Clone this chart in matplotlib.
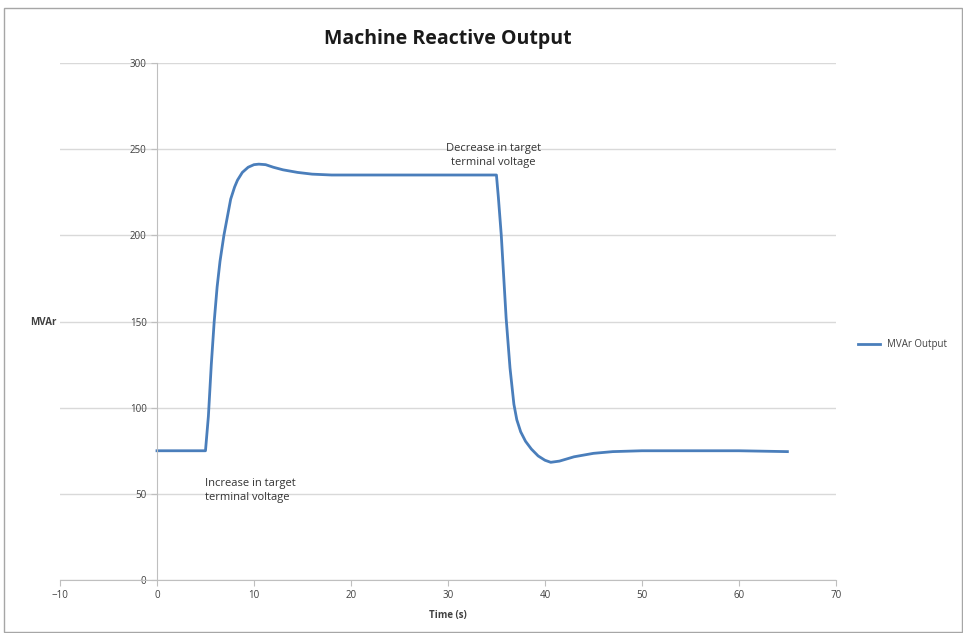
import matplotlib.pyplot as plt
from matplotlib.patches import Rectangle

# Generator reactive power response to terminal voltage setpoint steps
time_s = [0, 5, 5.3, 5.6, 5.9, 6.2, 6.5, 6.9, 7.3, 7.6, 8.0, 8.3, 8.8, 9.4,
          10.0, 10.5, 11.2, 12.0, 13.0, 14.5, 16, 18, 20, 25, 30, 35, 35.2,
          35.5, 36.0, 36.4, 36.8, 37.1, 37.5, 38.0, 38.6, 39.3, 40.0, 40.6,
          41.5, 43, 45, 47, 50, 55, 60, 65]
mvar = [75, 75, 95, 125, 150, 170, 185, 200, 212, 221, 228, 232, 236.5, 239.5,
        241, 241.3, 241, 239.5, 238, 236.5, 235.5, 235, 235, 235, 235, 235, 222,
        200, 152, 123, 102, 93, 86, 80.5, 76, 72, 69.5, 68.3,
        69, 71.5, 73.5, 74.5, 75, 75, 75, 74.5]

x_ticks = list(range(-10, 71, 10))
y_ticks = list(range(0, 301, 50))

plt.rcParams['font.family'] = ['Open Sans', 'DejaVu Sans']

fig = plt.figure(figsize=(9.63, 6.33), dpi=100)
ax = fig.add_axes([0.0623, 0.0837, 0.8057, 0.8168])

ax.plot(time_s, mvar, color="#4a7ebb", linewidth=2, label="MVAr Output")

ax.set_xlim(-10, 70)
ax.set_ylim(0, 300)
ax.set_xticks(x_ticks)
ax.set_yticks(y_ticks)
ax.grid(axis="y", color="#d9d9d9", linewidth=1)
ax.set_axisbelow(True)

for side in ["top", "right"]:
    ax.spines[side].set_visible(False)
ax.spines["left"].set_position(("data", 0))
ax.spines["left"].set_color("#bfbfbf")
ax.spines["bottom"].set_color("#bfbfbf")
ax.tick_params(axis="both", colors="#bfbfbf", labelcolor="#404040",
               labelsize=7, length=4, direction="out")

ax.set_xlabel("Time (s)", fontsize=7, fontweight="bold", color="#404040", labelpad=6)
fig.text(0.031, 0.49, "MVAr", fontsize=7, fontweight="bold", color="#404040",
         ha="left", va="center")

ax.set_title("Machine Reactive Output", fontsize=14, fontweight="bold",
             color="#1a1a1a", pad=14)

ax.text(34.7, 246.5, "Decrease in target\nterminal voltage", fontsize=8,
        ha="center", va="center", color="#333333", linespacing=1.4)
ax.text(4.9, 52, "Increase in target\nterminal voltage", fontsize=8,
        ha="left", va="center", color="#333333", linespacing=1.4)

ax.legend(loc="center left", bbox_to_anchor=(0.882, 0.455),
          bbox_transform=fig.transFigure, frameon=False, fontsize=7,
          handlelength=2.2, labelcolor="#404040")

# Chart area border
fig.patches.append(Rectangle((0.004, 0.001), 0.995, 0.986, transform=fig.transFigure,
                             fill=False, edgecolor="#a6a6a6", linewidth=1))

plt.savefig("out.png", dpi=100)
